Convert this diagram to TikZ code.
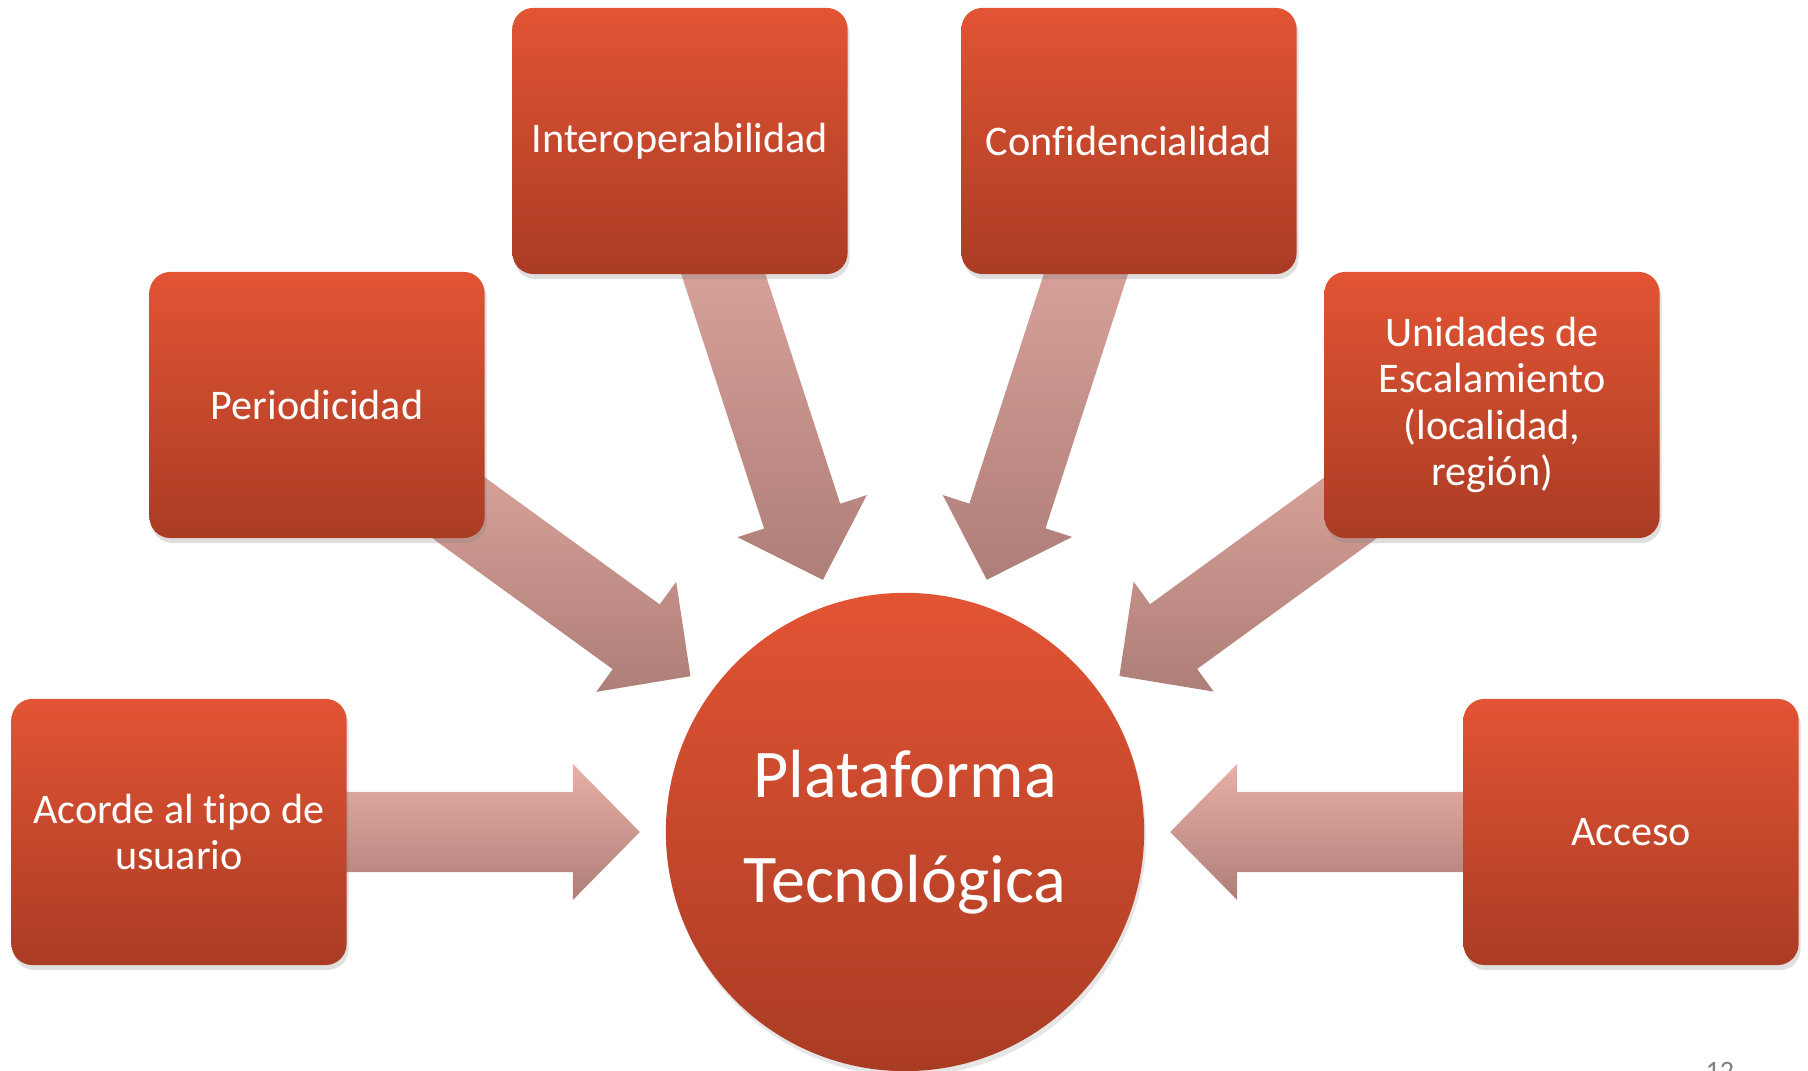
\documentclass[tikz,border=0pt]{standalone}
\usepackage{fontspec}
\setmainfont{Carlito}[Ligatures=NoCommon]
\usetikzlibrary{shapes,calc,shadows,backgrounds}

\definecolor{boxtop}{RGB}{226,84,52}
\definecolor{boxbot}{RGB}{170,60,36}
\definecolor{arrtop}{RGB}{232,176,166}
\definecolor{arrbot}{RGB}{174,126,120}

% fleche large de #1 vers #2 (pointe a 2.65cm du centre de #2)
\newcommand\bigarrow[2]{%
  \coordinate (atip) at ($(#2)!2.65cm!(#1)$);
  \coordinate (abase) at ($(atip)!0.67cm!(#1)$);
  \shade[arrowfill] ($(#1)!0.4cm!90:(atip)$) -- ($(abase)!0.4cm!90:(atip)$)
    -- ($(abase)!0.68cm!90:(atip)$) -- (atip) -- ($(abase)!0.68cm!-90:(atip)$)
    -- ($(abase)!0.4cm!-90:(atip)$) -- ($(#1)!0.4cm!-90:(atip)$) -- cycle;}

\begin{document}
\begin{tikzpicture}[x=0.01cm, y=-0.01cm,
    factor/.style={rectangle, rounded corners=0.21cm, minimum width=3.35cm, minimum height=2.66cm,
      align=center, text=white, font=\fontsize{12}{13.2}\selectfont,
      top color=boxtop, bottom color=boxbot,
      drop shadow={opacity=0.25, shadow xshift=0.02cm, shadow yshift=-0.05cm}},
    platform/.style={circle, minimum size=4.78cm, inner sep=0pt, align=center, text=white,
      font=\fontsize{19.4}{29.9}\selectfont, top color=boxtop, bottom color=boxbot,
      drop shadow={opacity=0.2, shadow xshift=0.02cm, shadow yshift=-0.05cm}},
    arrowfill/.style={top color=arrtop, bottom color=arrbot},
    pagenum/.style={inner sep=0pt, text=gray, font=\fontsize{8}{9}\selectfont}]
  \useasboundingbox (0,0) rectangle (1808,1071);

  % Noeud central
  \node[platform] (plat) at (905,832) {Plataforma\\Tecnológica};

  % Facteurs
  \node[factor] (inter) at (680,141) {Interoperabilidad};
  \node[factor] (conf) at (1129,141) {Confidencialidad};
  \node[factor] (period) at (317,405) {Periodicidad};
  \node[factor] (unid) at (1492,405) {Unidades de\\Escalamiento\\(localidad,\\región)};
  \node[factor] (acorde) at (179,832) {Acorde al tipo de\\usuario};
  \node[factor] (acceso) at (1631,832) {Acceso};

  % Flèches vers la plateforme
  \begin{scope}[on background layer]
    \bigarrow{inter}{plat}
    \bigarrow{conf}{plat}
    \bigarrow{period}{plat}
    \bigarrow{unid}{plat}
    \bigarrow{acorde}{plat}
    \bigarrow{acceso}{plat}
  \end{scope}

  % Numéro de page
  \node[pagenum, anchor=north west] (pnum) at (1705,1062) {12};
\end{tikzpicture}
\end{document}
